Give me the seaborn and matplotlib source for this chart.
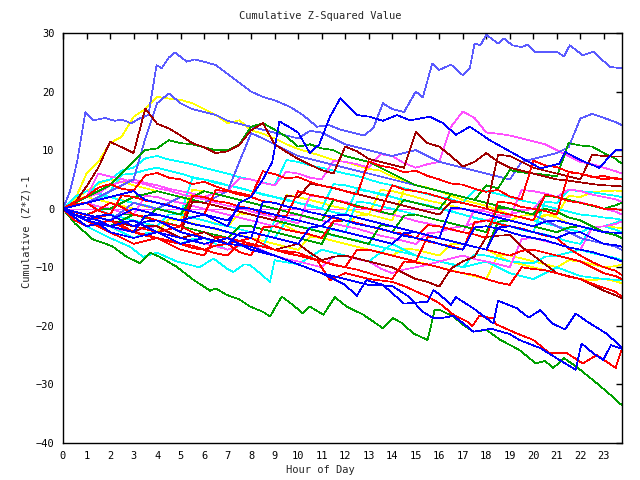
import matplotlib
matplotlib.use("Agg")
import matplotlib.pyplot as plt
import seaborn as sns
import pandas as pd

# ---------------- data ----------------
HALF = [0, 0.5, 1, 1.5, 2, 2.5, 3, 3.5, 4, 4.5, 5, 5.5, 6, 6.5, 7, 7.5, 8, 8.5, 9, 9.5,
        10, 10.5, 11, 11.5, 12, 12.5, 13, 13.5, 14, 14.5, 15, 15.5, 16, 16.5, 17, 17.5,
        18, 18.5, 19, 19.5, 20, 20.5, 21, 21.5, 22, 22.5, 23, 23.5, 23.75]

lb_top_x = [0, 0.3, 0.6, 0.95, 1.3, 1.8, 2.2, 2.5, 2.9, 3.3, 3.63, 3.98, 4.2, 4.5, 4.76, 5.26, 5.6, 6.1, 6.5, 7,
            7.5, 8, 8.5, 9, 9.65, 10.2, 10.8, 11.3, 11.8, 12.3, 12.8, 13.2, 13.6, 14, 14.5, 15, 15.3, 15.7, 16, 16.5,
            17, 17.3, 17.5, 17.75, 18, 18.5, 18.75, 19.1, 19.5, 19.75, 20.07, 21, 21.3, 21.55, 22.1, 22.55, 23.26, 23.75]
lb_top_y = [0, 3, 8, 16.5, 15.1, 15.5, 15, 15.2, 14.6, 15.5, 16, 24.5, 24, 25.8, 26.7, 25.1, 25.5, 25, 24.5, 23,
            21.5, 20, 19.1, 18.5, 17.4, 16, 14, 14.3, 13.5, 13, 12.5, 13.8, 18, 17, 16.5, 20, 19, 24.8, 23.7, 24.6,
            22.8, 24, 28.2, 27.9, 29.7, 28.2, 29.1, 27.9, 27.6, 28, 26.8, 26.8, 26, 27.9, 26.2, 26.8, 24.2, 24]

green_bot_x = [0, 0.5, 1.29, 1.7, 2.13, 2.7, 3.27, 3.7, 4.1, 4.83, 5.5, 6.25, 6.5, 6.96, 7.5, 7.95, 8.5, 8.8, 9.3, 9.8,
               10.2, 10.5, 11.07, 11.56, 12.06, 12.77, 13.6, 14.04, 14.4, 14.9, 15.5, 15.67, 15.8, 16.03, 16.6, 17.0,
               17.45, 18.0, 18.6, 19.4, 20.1, 20.5, 20.85, 21.3, 21.84, 22.7, 23.2, 23.75]
green_bot_y = [0, -2.5, -5.3, -5.8, -6.5, -8.2, -9.3, -7.5, -8.2, -9.9, -12, -14, -13.6, -14.7, -15.5, -16.7, -17.6,
               -18.4, -15, -16.5, -17.9, -16.7, -18.1, -15.1, -16.7, -18.1, -20.4, -18.7, -19.5, -21.3, -22.4, -19.6,
               -17.3, -17.3, -18.4, -19.8, -21, -20.7, -22.4, -24.1, -26.4, -26, -27.2, -25.5, -27, -29.8, -31.5, -33.5]

blue_bot1_x = [0, 0.5, 1, 1.5, 2, 3, 4, 5, 6, 7, 8, 9, 10, 11, 12, 12.49, 12.9, 13.6, 14.5, 15.1, 15.5, 15.75, 16.03,
               16.5, 16.7, 17.45, 18.3, 18.5, 19.3, 19.8, 20.3, 20.8, 21.35, 21.8, 22.3, 23.1, 23.75]
blue_bot1_y = [0, -1.5, -3, -2.5, -4, -5, -4, -6, -5, -6, -6.5, -8, -9.5, -11, -13, -14.9, -12.2, -13, -16.2, -16,
               -15.9, -13.9, -14.7, -16.4, -15.1, -17, -19.6, -15.7, -17, -18.6, -17.3, -19.6, -20.6, -17.9, -19.3,
               -21.3, -23.6]

blue_bot2_x = [0, 1, 2, 3, 4, 5, 6, 7, 8, 9, 10, 11, 12, 13, 14, 14.7, 15.3, 15.75, 16.03, 16.6, 17.0, 17.45, 18.2,
               19.0, 19.4, 20.3, 21.1, 21.8, 22.05, 22.55, 22.97, 23.3, 23.75]
blue_bot2_y = [0, -2, -3, -2, -4, -5, -6, -5, -7, -8, -9.5, -11, -12, -13, -13.2, -15, -17.6, -18.7, -18.7, -18.3,
               -19.5, -21, -20.5, -21.4, -22.4, -23.8, -25.8, -27.5, -23, -24.7, -25.8, -23.3, -23.9]

red_bot_x = [0, 1, 2, 3, 4, 5, 6, 7, 8, 9, 10, 10.8, 11.35, 12, 13, 14, 14.5, 15.5, 16.03, 16.6, 17.2, 17.4, 17.7,
             18.3, 18.4, 19.3, 20.0, 20.7, 21.4, 22.1, 22.7, 23.0, 23.5, 23.75]
red_bot_y = [0, -2, -1, -3, -4, -3, -5, -6, -5, -7, -7.5, -8.8, -12.2, -11, -12, -12.5, -13.2, -15, -16.2, -18.1,
             -19.3, -20.1, -18.3, -18.7, -19.7, -21.3, -22.4, -24.7, -24.6, -26.4, -25, -25.8, -27.2, -24.1]

cyan_low_x = [0, 1, 2, 2.85, 3.4, 4, 4.83, 5.8, 6.4, 6.96, 7.24, 7.7, 7.95, 8.37, 8.8, 9.0, 10, 11, 12, 13,
              14, 15, 16, 17, 18, 19, 20, 21, 22, 23, 23.75]
cyan_low_y = [0, -3, -5, -6.5, -8.2, -7.5, -9, -10, -8.5, -10.2, -10.8, -9.5, -9.6, -11, -12.5, -8.8, -9.5, -7, -8, -9,
              -6, -8, -9, -10, -9, -11, -12, -10, -11.5, -12, -12.2]

blue_a_x = [0, 1, 2, 3, 4, 5, 6, 7, 7.5, 8, 8.5, 8.9, 9.2, 9.6, 10, 10.5, 10.9, 11.35, 11.8, 12.06, 12.5, 13.05, 13.6,
            14.2, 14.75, 15.6, 16.17, 16.7, 17.3, 18.15, 18.5, 19.4, 20.3, 21.1, 21.35, 22.0, 22.8, 23.5, 23.75]
blue_a_y = [0, -1, -2, 0, -1, -2, -1, -3, 1, 2, 5, 8, 14.9, 14, 13, 9.5, 11, 15.7, 18.9, 17.7, 16, 15.7, 15, 16, 15.1,
            15.7, 14.6, 12.6, 14, 11.7, 10.9, 8.9, 6.9, 7.7, 9.7, 8.3, 7, 10, 10]

magenta_zero_x = [0, 21]
magenta_zero_y = [0, 0]

# half-hourly series (values at HALF)
yellow_top = [0, 1.5, 6, 8, 11.2, 12.3, 15.7, 17,
              19.1, 18.8, 18.6, 18, 17, 16, 14.6, 15.1,
              13.4, 12.8, 12, 11, 10.2, 9.6, 9, 8.3,
              8, 7.4, 6.8, 6.5, 5.5, 4.8, 4, 3.6,
              3, 2.2, 1.5, 1, 0.5, -0.2, -1, -1.5,
              -2, -1, -1.5, -2.5, -3, -3.5, -4, -4.5,
              -5]
darkred_top = [0, 1, 3.8, 7, 11.4, 10.5, 9.5, 17.1,
               14.5, 13.7, 12.5, 11.2, 10.5, 9.5, 9.8, 10.9,
               13.4, 14.6, 11, 9.7, 8.5, 7.5, 6.6, 6,
               10.6, 9.8, 8.5, 8, 7.5, 7, 13.1, 11.2,
               10.6, 9, 7.2, 8, 9.5, 8, 7, 6.5,
               6, 5.5, 5, 4.8, 4.5, 4.2, 4, 3.9,
               3.8]
green_mid = [0, 1, 2, 3, 4, 6, 8, 10,
             10.3, 11.7, 11.2, 11, 10.5, 10, 10, 11,
             14, 14.6, 13.5, 12.3, 10.6, 11, 10.3, 10,
             9, 8.5, 8, 7, 6, 5, 4, 3.5,
             3, 2.5, 2, 1.5, 1, 0.5, 0, -0.5,
             -1, 0, -0.5, -1.5, -2, -3, -4, -4.5,
             -5]
green_b = [0, -0.5, -1, -1.5, -2, -1, -1, -1.5,
           0, -0.5, -1, 2, 3, 2.5, 2, 1.5,
           1, 0.5, 0, -0.5, -1, -1.5, -2, 1.5,
           1, 0.5, 0, -0.5, -1, 1.5, 1, 0.5,
           0, 2.5, 2, 1.5, 4, 3.5, 6.6, 6.2,
           6, 5.8, 5.5, 11.2, 10.8, 10.6, 9.5, 8.5,
           7.7]
darkred_low = [0, -1, -2, -2.5, -3, -3.5, -4, -3,
               -3, -4, -5, -4.5, -4, -5, -6, -5.5,
               -5, -6, -7, -6.5, -6, -7.5, -8.8, -8.2,
               -8, -8.5, -9, -9.5, -10, -11, -12, -12.5,
               -13.3, -10.2, -9, -8.2, -4.8, -4.6, -4.5, -6.5,
               -8, -9.5, -11, -11.5, -12, -13, -14, -14.8,
               -15.3]
red_a = [0, 1.2, 2.1, 3.6, 4.2, 3.4, 3.1, 5.7,
         6.1, 5.3, 5.0, 4.2, 4.6, 3.8, 3.1, 2.7,
         2.2, 6.4, 5.9, 5.2, 5.4, 4.6, 3.9, 3.6,
         3.0, 2.4, 8.1, 7.3, 7.0, 6.2, 6.5, 5.6,
         5.0, 4.3, 4.1, 3.4, 2.9, 3.2, 2.1, 1.6,
         8.2, 7.4, 7.1, 6.3, 6.0, 5.4, 5.6, 5.1,
         5.0]
red_b = [0, -0.6, -1.1, -0.2, 1, 0.3, -1, -1.4,
         -2, -2.6, -3, 2.2, 2, 1.3, 1, 0.4,
         0, -0.7, -1, -1.3, 3, 2.4, 2, 1.6,
         1, 0.3, 0, -0.4, 4, 3.3, 3, 2.6,
         2, 1.4, 1, 0.5, 0, -0.6, -1, -1.5,
         -2, 2.4, 2, 1.3, 1, 0.6, 0, -0.1,
         -0.2]
red_c = [0, -1.5, -3, -2.4, -2, -2.8, -4, -4.6,
         -5, -5.4, -6, -6.7, -7, -6.3, -6, -7.4,
         -8, -3.2, -3, -3.6, -4, -4.4, -5, -2.1,
         -2, -2.6, -3, -3.5, -4, -4.3, -5, -5.6,
         -6, -6.4, -7, -2.3, -2, -2.6, -3, -3.4,
         -4, -4.6, -5, -6.8, -8, -9.1, -10, -10.6,
         -11.3]
red_d = [0, 0.8, 1, -0.3, -1, 2.3, 2, 1.4,
         1, 0.6, 0, -0.5, -1, 3.2, 3, 2.4,
         2, 1.3, 1, 0.4, 0, -0.6, -1, -1.6,
         -2, -2.4, -3, -3.5, -4, -4.6, -5, -2.8,
         -3, -3.5, -4, -4.4, -5, 1.2, 1, 0.3,
         0, -0.4, -1, 6.2, 6, 5.5, 5, 5.3,
         5]
red_f = [0, -2, -3, -2.5, -2, -3.1, -4, -4.4,
         -5, -5.6, -6, -6.3, -7, -7.6, -8, -6,
         -6.2, -6.5, -7, -7.6, -8, -8.3, -9, -9.6,
         -10, -10.4, -11, -11.6, -12, -9, -9.2, -9.5,
         -10, -10.6, -11, -11.3, -12, -12.6, -13, -10,
         -10.3, -10.5, -11, -11.6, -12, -12.8, -13.5, -14.2,
         -15]
magenta_top = [0, 1.1, 2, 2.6, 4, 4.6, 5, 4.4,
               4, 3.4, 3, 2.6, 2, 2.7, 3, 5.2,
               5, 4.4, 4, 6.3, 6, 5.3, 5, 8.2,
               8, 7.6, 7, 9.3, 9, 7.8, 7, 7.6,
               8, 14, 16.6, 15.5, 13, 12.8, 12.5, 12,
               11.5, 11, 10, 9, 8, 7.6, 7, 6.4,
               6]
magenta_b = [0, -0.5, -1, -2, -3, -3.6, -4, -3.2,
             -3, -4.1, -5, -5.5, -6, -6.4, -7, -6.3,
             -6, -7.2, -8, -8.6, -9, -9.5, -10, -8.2,
             -8, -8.6, -9, -10.2, -11, -10.4, -10, -9.6,
             -9, -8.5, -8, -8.6, -9, -9.5, -10, -5.2,
             -5, -5.5, -6, -6.6, -7, -3.2, -3, -2.6,
             -2.2]
magenta_c = [0, 0.6, 1, 0.4, 0, -0.6, -1, 2.2,
             2, 1.4, 1, 0.5, 0, -0.5, -1, -1.5,
             -2, -2.5, -3, -1.2, -1, -1.6, -2, -2.5,
             -3, -3.4, -4, -4.6, -5, -5.5, -6, -4.2,
             -4, -3.3, -3, -2.5, -2, -1.4, -1, -0.4,
             0, 2.2, 2, 3.3, 3, 2.4, 2, 1.6,
             1.2]
magenta_d = [0, 1, 2, 6, 5.5, 5.1, 4.5, 4.2,
             3.5, 3.1, 2.5, 2, 1.6, 1, 0.5, 0.2,
             -0.5, -1, -1.4, -2, -2.5, 2.2, 2, 1.5,
             1.2, 0.5, 0, -0.6, -1, -1.5, -2.1, -2.5,
             -3, -3.6, -4, -0.2, -0.5, -1.1, -1.5, 3.2,
             3, 2.6, 2, 1.5, 1.1, 0.5, 0, -0.5,
             -1]
cyan_a = [0, 1, 2, 4.5, 5, 6.5, 7, 8.6,
          9, 8.4, 8, 7.6, 7, 6.5, 6, 5.4,
          5, 4.5, 4, 8.3, 8, 7.4, 7, 6.5,
          6, 5.6, 5, 4.4, 4, 3.5, 3, 2.5,
          2, 1.6, 1, 3.2, 3, 2.5, 2, 1.4,
          1, 0.5, 0, -0.5, -1, -1.2, -1.5, -1.7,
          -1.9]
cyan_b = [0, 0.5, 1, 1.5, 3, 5.8, 6, 6.6,
          7, 6.5, 6, 5.4, 5, 4.6, 4, 3.5,
          3, 2.5, 2, 1.4, 1, 0.6, 0, 4.2,
          4, 3.5, 3, 2.4, 2, 1.5, 1, 0.5,
          0, -0.5, -1, -1.5, -2, -2.6, -3, -3.5,
          -4, 1.2, 1, 3.2, 3, 2.8, 2.5, 2.2,
          2]
cyan_c = [0, -1, -2, -2.6, -3, -4, -5, -4.2,
          -4, -5, -6, -5.2, -5, -6, -7, -6.4,
          -6, -6.5, -2, -2.5, -3, -3.4, -4, -4.6,
          -5, -5.4, -6, -6.5, -7, -7.5, -8, -8.5,
          -9, -9.4, -10, -7.8, -8, -8.5, -9, -9.2,
          -9.3, -8.2, -8, -7.5, -7, -7.6, -8, -8.4,
          -8.8]
cyan_d = [0, 0.6, 1, -0.2, -1, -1.5, -2, -2.5,
          -3, -1, -1, -1.5, -2, -2.6, -3, -3.5,
          -4, -4.5, -5, -2, -2, -2.5, -3, -3.6,
          -4, 1.2, 1, 0.4, 0, -0.5, -1, -1.5,
          -2, -2.5, -3, -3.5, -4, -1.2, -1, -1.5,
          -2, -2.5, -3, -3.5, -4, -3.2, -3, -2.4,
          -1.9]
cyan_e = [0, 2, 3, 2.6, 2, 1.4, 1, 0.6,
          0, -0.4, -1, 5.2, 5, 4.4, 4, 3.6,
          3, 2.4, 2, 1.6, 1, 0.4, 0, -0.6,
          -1, 3.2, 3, 2.6, 2, 1.4, 1, 0.6,
          0, -0.4, -1, -1.6, -2, -2.4, -3, -3.6,
          -4, -4.4, -5, -5.6, -6, -3.2, -3, -3.6,
          -4]
yellow_b = [0, 1.5, 3, 4.2, 5, 4.6, 4, 3.5,
            3, 2.5, 2, 1.4, 1, 0.5, 0, -0.5,
            -1, -1.5, -2, 2.3, 2, 1.5, 1, 0.4,
            0, -0.5, -1, 3.2, 3, 2.5, 2, 1.4,
            1, 0.5, 0, -0.5, -1, -1.5, -2, -1.2,
            -1, -2, -3, -3.5, -4, -3.2, -3, -3.2,
            -3.3]
yellow_c = [0, -0.5, -1, -1.5, -2, -2.5, -3, -3.5,
            -4, -1.8, -2, -2.5, -3, -3.5, -4, -4.5,
            -5, -5.5, -6, -6.5, -7, -4.8, -5, -5.5,
            -6, -6.5, -7, -7.5, -8, -8.5, -9, -9.5,
            -10, -10.5, -11, -11.5, -12, -7.8, -8, -8.5,
            -9, -9.5, -10, -8.8, -9, -9.5, -10, -9.8,
            -9.5]
yellow_d = [0, 0.5, 1, 1.5, 2, 1.5, 1, 0.4,
            0, -0.5, -1, -1.5, -2, -2.5, -3, -0.8,
            -1, -1.5, -2, -3, -4, -4.5, -5, -5.5,
            -6, -6.5, -7, -7.4, -8, -6.8, -7, -7.5,
            -8, -6, -6, -6.5, -7, -8, -9, -9.5,
            -10, -10.5, -11, -11.5, -12, -12.2, -12, -12.4,
            -12.7]
yellow_e = [0, 1.8, 2, 1.5, 1, 0.5, 0, -0.5,
            -1, -1.5, -2, 3.2, 3, 2.5, 2, 1.5,
            1, 0.5, 0, -0.5, -1, -1.5, -2, -2.5,
            -3, -1.2, -1, -1.5, -2, 3.2, 3, 2.5,
            2, 1.5, 1, 0.5, 0, -0.5, -1, -1.5,
            -2, -1.2, -1, 2.2, 2, 2.8, 3, 3.1,
            3]
blue_c = [0, -1, -2, -1.2, -1, -2, -3, -2.2,
          -2, -3, -4, -4.5, -5, -5.5, -6, -4.2,
          -4, -4.5, -5, -5.5, -6, -3.2, -3, -3.5,
          -4, -4.5, -5, -5.5, -6, -4.2, -4, -4.5,
          -5, -5.5, -6, -6.5, -7, -3.2, -3, -3.5,
          -4, -4.5, -5, -4.2, -4, -5, -6, -6.2,
          -6.5]
blue_d = [0, 0.5, 1, 1.5, 2, 2.5, 3, 1.5,
          1, 0.5, 0, -0.5, -1, -1.5, -2, 0.2,
          0, -0.5, -1, -1.5, -2, -2.5, -3, -1.2,
          -1, -1.5, -2, -2.5, -3, -3.5, -4, -4.5,
          -5, 0.2, 0, -0.5, -1, -1.5, -2, -2.5,
          -3, -2.2, -2, -2.5, -3, -3.5, -4, -4.1,
          -4.2]
blue_e = [0, -1, -1.5, -2, -3, -3.5, -4, -1.2,
          -1, -1.5, -2, -2.6, -3, -3.4, -4, -4.6,
          -5, 1.2, 1, 0.4, 0, -0.6, -1, -1.4,
          -2, -2.6, -3, -3.4, -4, -4.6, -5, -5.4,
          -6, -6.6, -7, -3.2, -3, -3.4, -4, -4.6,
          -5, -5.4, -6, -6.6, -7, -7.4, -8, -8.6,
          -9]
lightblue_3 = [0, 0.5, 1, 2, 3, 4, 5, 12,
               18, 19.7, 18, 17, 16.5, 16, 15, 14.5,
               14, 13.5, 13, 12.5, 12, 13.3, 13, 12,
               11, 10.5, 10, 9.5, 9, 9.5, 10, 9,
               8, 7.5, 7, 6.5, 6, 5.5, 5, 8,
               8.5, 9, 9.5, 10.5, 15.4, 16.2, 15.5, 14.8,
               14.3]
lightblue_4 = [0, -0.5, -1, -1.5, -2, -0.5, 1, 0.5,
               0, 1, 2, 1.5, 1, 2, 3, 8,
               12.9, 12, 11, 10, 9, 8.5, 8, 7.5,
               7, 6.5, 6, 5.5, 5, 4.5, 4, 3.5,
               3, 2.5, 2, 1.5, 1, 0.5, 0, -0.5,
               -1, -2, -3, -4, -5, -5.5, -6, -6.5,
               -7]
green_c = [0, -1, -2, -2.5, -3, -2, -1, -1.5,
           -2, -2.5, -3, -3.5, -4, -4.5, -5, -3,
           -3, -3.5, -4, -4.5, -5, -5.5, -6, -2.2,
           -2, -2.5, -3, -3.5, -4, -1.2, -1, -1.5,
           -2, -2.5, -3, -3.5, -4, 0.2, 0, -0.5,
           -1, 2.2, 2, 1.5, 1, 0.5, 0, 0.6,
           1]
green_d = [0, -0.5, -1, -0.2, 0, 1, 2, 2.5,
           3, 2.5, 2, 1.5, 1, 0.5, 0, -0.5,
           -1, -1.5, -2, -2.5, -3, -3.5, -4, -4.5,
           -5, -5.5, -6, -2.8, -3, -3.5, -4, -4.5,
           -5, -5.5, -6, -6.5, -7, -2.2, -2, -2.5,
           -3, -3.5, -4, -3.2, -3, -3.5, -4, -4.5,
           -5]
red_e = [0, -1, -2, -3, -4, -5, -6, -5.5,
         -5, -6, -7, -7.5, -8, -4.8, -5, -5.5,
         -6, -6.5, -7, -7.5, -8, -8.5, -9, -9.5,
         -10, -7, -7, -7.5, -8, -8.5, -9, -4.8,
         -5, -5.5, -6, -6.5, -7, -7.5, -8, -7.2,
         -7, -7.5, -8, -8.5, -9, -10, -11, -11.5,
         -12]
darkred_c = [0, -0.5, -1, -1.5, -2, -2.5, -3, -2.2,
             -2, -3, -4, 1.2, 1, 0.5, 0, -0.5,
             -1, -1.5, -2, 2.2, 2, 4.2, 4, 3.5,
             3, 2.5, 2, 1.5, 1, 0.5, 0, -0.5,
             -1, 1.2, 1, 0.5, 0, 9.2, 9, 8,
             7, 6.5, 6, 5.5, 5, 9.2, 9, 8.9,
             8.9]

# ---------------- colours ----------------
RED, GREEN, BLUE, MAGENTA = "#ff0000", "#00a000", "#0000ff", "#ff50ff"
CYAN, DARKRED, YELLOW, LIGHTBLUE = "#00ffff", "#a00000", "#ffff00", "#5a5aff"

series = [
    ("magenta_zero", magenta_zero_x, magenta_zero_y, MAGENTA),
    ("yellow_top", HALF, yellow_top, YELLOW),
    ("yellow_b", HALF, yellow_b, YELLOW),
    ("yellow_c", HALF, yellow_c, YELLOW),
    ("yellow_d", HALF, yellow_d, YELLOW),
    ("yellow_e", HALF, yellow_e, YELLOW),
    ("cyan_a", HALF, cyan_a, CYAN),
    ("cyan_b", HALF, cyan_b, CYAN),
    ("cyan_c", HALF, cyan_c, CYAN),
    ("cyan_d", HALF, cyan_d, CYAN),
    ("cyan_e", HALF, cyan_e, CYAN),
    ("cyan_low", cyan_low_x, cyan_low_y, CYAN),
    ("magenta_top", HALF, magenta_top, MAGENTA),
    ("magenta_b", HALF, magenta_b, MAGENTA),
    ("magenta_c", HALF, magenta_c, MAGENTA),
    ("magenta_d", HALF, magenta_d, MAGENTA),
    ("lightblue_3", HALF, lightblue_3, LIGHTBLUE),
    ("lightblue_4", HALF, lightblue_4, LIGHTBLUE),
    ("lb_top", lb_top_x, lb_top_y, LIGHTBLUE),
    ("green_mid", HALF, green_mid, GREEN),
    ("green_b", HALF, green_b, GREEN),
    ("green_c", HALF, green_c, GREEN),
    ("green_d", HALF, green_d, GREEN),
    ("green_bot", green_bot_x, green_bot_y, GREEN),
    ("darkred_top", HALF, darkred_top, DARKRED),
    ("darkred_low", HALF, darkred_low, DARKRED),
    ("darkred_c", HALF, darkred_c, DARKRED),
    ("red_a", HALF, red_a, RED),
    ("red_b", HALF, red_b, RED),
    ("red_c", HALF, red_c, RED),
    ("red_d", HALF, red_d, RED),
    ("red_e", HALF, red_e, RED),
    ("red_f", HALF, red_f, RED),
    ("red_bot", red_bot_x, red_bot_y, RED),
    ("blue_a", blue_a_x, blue_a_y, BLUE),
    ("blue_c", HALF, blue_c, BLUE),
    ("blue_d", HALF, blue_d, BLUE),
    ("blue_e", HALF, blue_e, BLUE),
    ("blue_bot1", blue_bot1_x, blue_bot1_y, BLUE),
    ("blue_bot2", blue_bot2_x, blue_bot2_y, BLUE),
]

rows = []
for name, xs, ys, col in series:
    for i, (x, y) in enumerate(zip(xs, ys)):
        rows.append({"series": name, "order": i, "hour": x, "value": y})
df = pd.DataFrame(rows)
palette = {name: col for name, _, _, col in series}

# ---------------- plot ----------------
sns.set_style("white")
plt.rcParams["font.family"] = ["DejaVu Sans Mono"]

fig = plt.figure(figsize=(6.4, 4.8), dpi=100)
ax = fig.add_axes([63 / 640, 37 / 480, 559 / 640, 410 / 480])

sns.lineplot(data=df, x="hour", y="value", hue="series", palette=palette,
             hue_order=[s[0] for s in series], estimator=None, sort=False,
             legend=False, linewidth=0.5, ax=ax)
for ln in ax.get_lines():
    ln.set_antialiased(False)

ax.set_xlim(0, 23.77)
ax.set_ylim(-40, 30)
ax.set_xticks(range(0, 24))
ax.set_xticklabels([str(h) for h in range(0, 24)])
ax.set_yticks(range(-40, 31, 10))
ax.tick_params(direction="in", length=4.5, width=1, top=True, right=True,
               labelsize=7.5, colors="black", pad=6)
for sp in ax.spines.values():
    sp.set_color("black")
    sp.set_linewidth(1)
ax.set_xlabel("")
ax.set_ylabel("")

fig.text(0.5, 1 - 16 / 480, "Cumulative Z-Squared Value", ha="center", va="center", fontsize=7.5)
fig.text(0.5, 1 - 470 / 480, "Hour of Day", ha="center", va="center", fontsize=7.5)
fig.text(27 / 640, 1 - 232 / 480, "Cumulative (Z*Z)-1", ha="center", va="center",
         rotation=90, fontsize=7.5)

fig.savefig("out.png", dpi=100, facecolor="white")
